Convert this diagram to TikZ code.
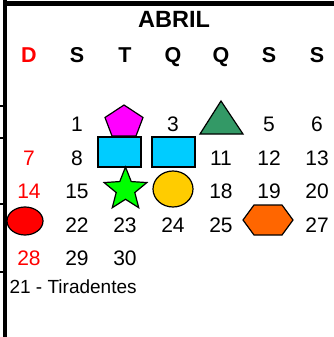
\documentclass[tikz,border=0pt]{standalone}
\usepackage{fontspec}
\setmainfont{Liberation Sans}
\usetikzlibrary{shapes}
\usetikzlibrary{shapes.geometric}
\definecolor{cal-red}{HTML}{FF0000}
\definecolor{cal-magenta}{HTML}{FF00FF}
\definecolor{cal-sea}{HTML}{339966}
\definecolor{cal-sky}{HTML}{00CCFF}
\definecolor{cal-lime}{HTML}{00FF00}
\definecolor{cal-gold}{HTML}{FFCC00}
\definecolor{cal-orange}{HTML}{FF6600}
\tikzset{
  badge/.style={draw=black, line width=1.2pt, inner sep=0pt, outer sep=0pt},
}

\begin{document}
\begin{tikzpicture}[
  x=1pt, y=-1pt,
  day/.style={anchor=base, font=\fontsize{21}{24}\selectfont},
  sunday/.style={day, text=cal-red},
  head/.style={anchor=base, font=\fontsize{21.5}{24}\selectfont\bfseries},
  note/.style={anchor=base west, font=\fontsize{19}{22}\selectfont}
]
\useasboundingbox (0,0) rectangle (334,337);

% Frame
\draw[line width=5pt] (3,3.5) -- (334,3.5);
\draw[line width=3.5pt] (5,0) -- (5,337);
\foreach \y in {106,138,204,272}
  \draw[line width=2pt] (0,\y) -- (5,\y);

% Title and week days
\node[head, font=\fontsize{23.5}{26}\selectfont\bfseries] (title) at (174,28) {ABRIL};
\node[head, text=cal-red] (hD) at (29,63) {D};
\node[head] (hS1) at (77,63) {S};
\node[head] (hT) at (125,63) {T};
\node[head] (hQ1) at (173,63) {Q};
\node[head] (hQ2) at (221,63) {Q};
\node[head] (hS2) at (269,63) {S};
\node[head] (hS3) at (317,63) {S};

% Days
\foreach \d/\c in {1/1,3/3,5/5,6/6}
  \node[day] (d\d) at (29+48*\c,131) {\d};
\node[sunday] (d7) at (29,165) {7};
\foreach \d/\c in {8/1,11/4,12/5,13/6}
  \node[day] (d\d) at (29+48*\c,165) {\d};
\node[sunday] (d14) at (29,198.5) {14};
\foreach \d/\c in {15/1,18/4,19/5,20/6}
  \node[day] (d\d) at (29+48*\c,198.5) {\d};
\foreach \d/\c in {22/1,23/2,24/3,25/4,27/6}
  \node[day] (d\d) at (29+48*\c,232) {\d};
\node[sunday] (d28) at (29,265.5) {28};
\foreach \d/\c in {29/1,30/2}
  \node[day] (d\d) at (29+48*\c,265.5) {\d};

% Marked days
\filldraw[badge, fill=cal-magenta] (124,105) -- (143,117.5) -- (136,136) -- (112,136) -- (105,117.5) -- cycle;
\filldraw[badge, fill=cal-sea] (221,101) -- (243,134) -- (200,134) -- cycle;
\node[badge, fill=cal-sky, rectangle, minimum width=43pt, minimum height=30pt] (d9) at (119.5,152) {};
\node[badge, fill=cal-sky, rectangle, minimum width=43pt, minimum height=30pt] (d10) at (173.5,152) {};
\node[badge, fill=cal-lime, star, star points=5, star point ratio=2.3, minimum size=45pt] (d16) at (125.5,189.5) {};
\node[badge, fill=cal-gold, ellipse, minimum width=40pt, minimum height=36pt] (d17) at (173,189) {};
\node[badge, fill=cal-red, ellipse, minimum width=36pt, minimum height=28pt] (d21) at (25,221) {};
\filldraw[badge, fill=cal-orange] (243,220) -- (254,205) -- (282,205) -- (293,220) -- (282,235) -- (254,235) -- cycle;

% Holiday
\node[note] (holiday) at (6,293) {21 - Tiradentes};
\end{tikzpicture}
\end{document}
